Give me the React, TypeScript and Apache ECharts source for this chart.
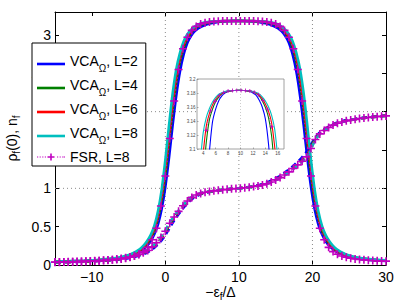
import React, { useEffect, useRef } from 'react';
import * as echarts from 'echarts';

// ---------------- data ----------------
const vcaX = [-15, -13, -11, -9, -7, -6, -5, -4, -3.5, -3, -2.5, -2, -1.5, -1, -0.5, 0, 0.5, 1, 1.5, 2, 2.5, 3, 3.5, 4, 4.5, 5, 6, 7, 8, 9, 9.9, 10.8, 11.8, 12.8, 13.8, 14.8, 15.3, 15.8, 16.3, 16.8, 17.3, 17.8, 18.3, 18.8, 19.3, 19.8, 20.3, 20.8, 21.3, 21.8, 22.3, 22.8, 23.3, 23.8, 24.8, 25.8, 26.8, 28.8, 30];

const rhoL2 = [0.04, 0.045, 0.051, 0.06, 0.077, 0.09, 0.112, 0.148, 0.172, 0.205, 0.25, 0.31, 0.4, 0.53, 0.73, 1.02, 1.4, 1.83, 2.22, 2.53, 2.75, 2.9, 2.99, 3.05, 3.09, 3.115, 3.15, 3.168, 3.178, 3.183, 3.1837, 3.183, 3.178, 3.168, 3.15, 3.115, 3.09, 3.05, 2.99, 2.9, 2.75, 2.53, 2.22, 1.83, 1.4, 1.02, 0.73, 0.53, 0.4, 0.31, 0.25, 0.205, 0.172, 0.148, 0.112, 0.09, 0.077, 0.06, 0.053];
const rhoL4 = [0.042, 0.046, 0.052, 0.062, 0.08, 0.095, 0.118, 0.157, 0.185, 0.225, 0.275, 0.35, 0.45, 0.61, 0.85, 1.18, 1.6, 2.03, 2.4, 2.66, 2.84, 2.96, 3.03, 3.08, 3.115, 3.14, 3.165, 3.177, 3.182, 3.1834, 3.1837, 3.1834, 3.182, 3.177, 3.165, 3.14, 3.115, 3.08, 3.03, 2.96, 2.84, 2.66, 2.4, 2.03, 1.6, 1.18, 0.85, 0.61, 0.45, 0.35, 0.275, 0.225, 0.185, 0.157, 0.118, 0.095, 0.08, 0.062, 0.055];
const rhoL6 = [0.043, 0.048, 0.054, 0.064, 0.083, 0.098, 0.123, 0.165, 0.195, 0.235, 0.29, 0.37, 0.48, 0.65, 0.91, 1.27, 1.7, 2.13, 2.48, 2.72, 2.88, 2.98, 3.05, 3.1, 3.13, 3.15, 3.17, 3.179, 3.1826, 3.1835, 3.1837, 3.1835, 3.1826, 3.179, 3.17, 3.15, 3.13, 3.1, 3.05, 2.98, 2.88, 2.72, 2.48, 2.13, 1.7, 1.27, 0.91, 0.65, 0.48, 0.37, 0.29, 0.235, 0.195, 0.165, 0.123, 0.098, 0.083, 0.064, 0.057];
const rhoL8 = [0.045, 0.05, 0.057, 0.068, 0.088, 0.104, 0.13, 0.175, 0.205, 0.25, 0.31, 0.39, 0.51, 0.7, 0.98, 1.37, 1.82, 2.24, 2.56, 2.77, 2.92, 3.01, 3.07, 3.11, 3.138, 3.155, 3.172, 3.18, 3.1828, 3.1836, 3.1837, 3.1836, 3.1828, 3.18, 3.172, 3.155, 3.138, 3.11, 3.07, 3.01, 2.92, 2.77, 2.56, 2.24, 1.82, 1.37, 0.98, 0.7, 0.51, 0.39, 0.31, 0.25, 0.205, 0.175, 0.13, 0.104, 0.088, 0.068, 0.06];

const nL2 = [0.033, 0.038, 0.044, 0.053, 0.066, 0.077, 0.09, 0.11, 0.123, 0.14, 0.162, 0.19, 0.225, 0.27, 0.325, 0.39, 0.47, 0.55, 0.625, 0.69, 0.75, 0.805, 0.85, 0.885, 0.91, 0.93, 0.952, 0.968, 0.982, 0.993, 1.0, 1.01, 1.025, 1.045, 1.075, 1.12, 1.145, 1.175, 1.21, 1.245, 1.285, 1.33, 1.375, 1.43, 1.49, 1.57, 1.65, 1.71, 1.75, 1.78, 1.81, 1.835, 1.855, 1.87, 1.89, 1.905, 1.92, 1.94, 1.95];
const nL4 = [0.035, 0.04, 0.046, 0.056, 0.07, 0.083, 0.097, 0.12, 0.135, 0.155, 0.178, 0.21, 0.25, 0.298, 0.356, 0.425, 0.515, 0.588, 0.655, 0.715, 0.775, 0.826, 0.868, 0.9, 0.921, 0.937, 0.957, 0.971, 0.984, 0.993, 1.0, 1.008, 1.021, 1.037, 1.063, 1.104, 1.13, 1.156, 1.187, 1.222, 1.26, 1.3, 1.342, 1.385, 1.44, 1.54, 1.63, 1.695, 1.74, 1.773, 1.802, 1.827, 1.847, 1.862, 1.886, 1.902, 1.916, 1.936, 1.946];
const nL6 = [0.035, 0.04, 0.047, 0.057, 0.072, 0.085, 0.1, 0.125, 0.14, 0.16, 0.185, 0.22, 0.26, 0.31, 0.37, 0.44, 0.53, 0.6, 0.665, 0.725, 0.785, 0.835, 0.875, 0.905, 0.925, 0.94, 0.958, 0.972, 0.984, 0.993, 1.0, 1.008, 1.02, 1.035, 1.06, 1.1, 1.125, 1.15, 1.18, 1.215, 1.25, 1.29, 1.33, 1.37, 1.42, 1.52, 1.62, 1.69, 1.735, 1.77, 1.8, 1.825, 1.845, 1.86, 1.885, 1.9, 1.915, 1.935, 1.945];
const nL8 = [0.036, 0.041, 0.048, 0.058, 0.074, 0.087, 0.103, 0.128, 0.144, 0.165, 0.19, 0.226, 0.267, 0.318, 0.38, 0.452, 0.54, 0.61, 0.673, 0.732, 0.79, 0.84, 0.879, 0.908, 0.927, 0.942, 0.959, 0.973, 0.985, 0.994, 1.0, 1.007, 1.019, 1.034, 1.058, 1.097, 1.121, 1.146, 1.176, 1.21, 1.245, 1.285, 1.325, 1.365, 1.412, 1.51, 1.615, 1.686, 1.732, 1.768, 1.798, 1.823, 1.843, 1.859, 1.884, 1.9, 1.914, 1.934, 1.944];

const fsrX = [-15, -14.4, -13.8, -13.2, -12.6, -12, -11.4, -10.8, -10.2, -9.6, -9, -8.4, -7.8, -7.2, -6.6, -6, -5.4, -4.8, -4.2, -3.6, -3, -2.4, -1.8, -1.2, -0.6, 0, 0.6, 1.2, 1.8, 2.4, 3, 3.6, 4.2, 4.8, 5.4, 6, 6.6, 7.2, 7.8, 8.4, 9, 9.6, 10.2, 10.8, 11.4, 12, 12.6, 13.2, 13.8, 14.4, 15, 15.6, 16.2, 16.8, 17.4, 18, 18.6, 19.2, 19.8, 20.4, 21, 21.6, 22.2, 22.8, 23.4, 24, 24.6, 25.2, 25.8, 26.4, 27, 27.6, 28.2, 28.8, 29.4, 30];
const fsrRho = [0.038, 0.039, 0.04, 0.042, 0.043, 0.045, 0.047, 0.048, 0.05, 0.053, 0.055, 0.058, 0.062, 0.067, 0.072, 0.079, 0.089, 0.102, 0.118, 0.141, 0.175, 0.23, 0.33, 0.48, 0.77, 1.16, 1.65, 2.14, 2.55, 2.82, 2.97, 3.06, 3.112, 3.145, 3.16, 3.17, 3.175, 3.179, 3.1815, 3.1828, 3.1835, 3.1837, 3.1837, 3.1835, 3.1828, 3.1815, 3.179, 3.175, 3.17, 3.16, 3.145, 3.112, 3.06, 2.97, 2.82, 2.55, 2.14, 1.65, 1.16, 0.77, 0.48, 0.33, 0.23, 0.175, 0.141, 0.118, 0.102, 0.089, 0.079, 0.072, 0.067, 0.062, 0.058, 0.055, 0.053, 0.05];
const fsrN = [0.035, 0.036, 0.038, 0.039, 0.041, 0.043, 0.045, 0.048, 0.051, 0.054, 0.057, 0.061, 0.066, 0.07, 0.077, 0.085, 0.094, 0.105, 0.12, 0.137, 0.16, 0.19, 0.236, 0.29, 0.358, 0.44, 0.545, 0.626, 0.7, 0.773, 0.835, 0.882, 0.913, 0.934, 0.948, 0.958, 0.967, 0.974, 0.982, 0.987, 0.993, 0.998, 1.002, 1.008, 1.015, 1.023, 1.032, 1.045, 1.06, 1.083, 1.11, 1.14, 1.174, 1.215, 1.258, 1.306, 1.354, 1.41, 1.52, 1.636, 1.71, 1.755, 1.795, 1.825, 1.848, 1.865, 1.88, 1.892, 1.9, 1.91, 1.918, 1.924, 1.93, 1.935, 1.94, 1.945];

// inset (zoom on the plateau)
const insetX = [3, 3.5, 4, 4.5, 5, 5.5, 6, 6.5, 7, 7.5, 8, 8.5, 9, 9.5, 10, 10.5, 11, 11.5, 12, 12.5, 13, 13.5, 14, 14.5, 15, 15.5, 16, 16.5, 17];
const insetL2 = [3.0, 3.0, 3.02, 3.05, 3.097, 3.139, 3.157, 3.169, 3.176, 3.18, 3.182, 3.183, 3.1835, 3.1837, 3.1837, 3.1835, 3.183, 3.182, 3.18, 3.177, 3.17, 3.16, 3.143, 3.108, 3.055, 3.02, 3.0, 3.0, 3.0];
const insetL4 = [3.0, 3.03, 3.06, 3.11, 3.142, 3.157, 3.168, 3.174, 3.179, 3.181, 3.1826, 3.1833, 3.1836, 3.1837, 3.1837, 3.1836, 3.1834, 3.1828, 3.1814, 3.1795, 3.1757, 3.169, 3.1594, 3.1452, 3.119, 3.07, 3.035, 3.0, 3.0];
const insetL6 = [3.025, 3.05, 3.094, 3.133, 3.151, 3.163, 3.171, 3.1763, 3.1797, 3.1816, 3.1828, 3.1834, 3.1836, 3.1837, 3.1837, 3.1836, 3.1834, 3.1829, 3.1819, 3.1804, 3.177, 3.172, 3.1644, 3.154, 3.1377, 3.1034, 3.06, 3.03, 3.0];
const insetL8 = [3.045, 3.08, 3.1234, 3.1452, 3.1578, 3.167, 3.1737, 3.1783, 3.1804, 3.182, 3.183, 3.1835, 3.1836, 3.1837, 3.1837, 3.1836, 3.1835, 3.183, 3.1822, 3.1808, 3.1787, 3.1745, 3.1686, 3.1603, 3.1485, 3.1285, 3.0883, 3.05, 3.025];
const insetFsrX = [4.5, 5.2, 5.9, 6.6, 7.3, 8.0, 8.7, 9.4, 10.1, 10.8, 11.5, 12.2, 12.9, 13.6, 14.3, 15.0];
const insetFsr = [3.1268, 3.1544, 3.1682, 3.1766, 3.1808, 3.1827, 3.1834, 3.1837, 3.1837, 3.1835, 3.1829, 3.1812, 3.1774, 3.1695, 3.1569, 3.1318];

// ticks and reference lines
const xTicks = [-10, 0, 10, 20, 30];
const yTicks = [0, 0.5, 1, 1.5, 2, 2.5, 3];
const gridLinesX = [0, 10, 20];
const gridLinesY = [1, 2];
const insetXTicks = [4, 6, 8, 10, 12, 14, 16];
const insetYTicks = [3.1, 3.12, 3.14, 3.16, 3.18, 3.2];
const insetGridX = [10];

const legendNames = ['VCA2', 'VCA4', 'VCA6', 'VCA8', 'FSR'];
const legendLabels = ['{m|VCA}{s|Ω}{m|, L=2}', '{m|VCA}{s|Ω}{m|, L=4}', '{m|VCA}{s|Ω}{m|, L=6}', '{m|VCA}{s|Ω}{m|, L=8}', '{f|FSR, L=8}'];

// ---------------- styling ----------------
const FONT = '"Liberation Sans", Arial, Helvetica, sans-serif';
const COL = { blue: '#0000ff', green: '#008000', red: '#ff0000', cyan: '#00bfbf', mag: '#c000c0' };
const PLUS = 'path://M4,0H6V4H10V6H6V10H4V6H0V4H4Z';
const LINE_ICON = 'path://M0,0H28V2.6H0Z';
const FSR_ICON = 'path://M0,4H1.2V5H0Z M2.6,4H3.8V5H2.6Z M5.2,4H6.4V5H5.2Z M7.8,4H9V5H7.8Z M20,4H21.2V5H20Z M22.6,4H23.8V5H22.6Z M25.2,4H26.4V5H25.2Z M26.8,4H28V5H26.8Z M10.5,3.7H13.2V1H14.8V3.7H17.5V5.3H14.8V8H13.2V5.3H10.5Z';

const pairs = (xs: number[], ys: number[]) => xs.map((x, i) => [x, ys[i]]);
const minus = (v: number) => (v < 0 ? '\u2212' + Math.abs(v) : String(v));

export default function App() {
  const ref = useRef<HTMLDivElement>(null);
  useEffect(() => {
    const chart = echarts.init(ref.current!, null, { renderer: 'svg' });

    const vca = [
      { name: 'VCA2', color: COL.blue, rho: rhoL2, n: nL2, ins: insetL2 },
      { name: 'VCA4', color: COL.green, rho: rhoL4, n: nL4, ins: insetL4 },
      { name: 'VCA6', color: COL.red, rho: rhoL6, n: nL6, ins: insetL6 },
      { name: 'VCA8', color: COL.cyan, rho: rhoL8, n: nL8, ins: insetL8 },
    ];

    const series: any[] = [];
    gridLinesX.forEach((v) =>
      series.push({ type: 'line', xAxisIndex: 0, yAxisIndex: 0, data: [[v, 0], [v, 3.3]], symbol: 'none', silent: true, z: 0,
        lineStyle: { color: '#8a8a8a', width: 1, type: [1, 3] } }));
    gridLinesY.forEach((v) =>
      series.push({ type: 'line', xAxisIndex: 0, yAxisIndex: 0, data: [[-15, v], [30, v]], symbol: 'none', silent: true, z: 0,
        lineStyle: { color: '#8a8a8a', width: 1, type: [1, 3] } }));
    vca.forEach((s) =>
      series.push({ type: 'line', name: s.name, xAxisIndex: 0, yAxisIndex: 0, data: pairs(vcaX, s.rho), symbol: 'none', smooth: 0.3,
        silent: true, z: 2, lineStyle: { color: s.color, width: 2.6 }, itemStyle: { color: s.color } }));
    vca.forEach((s) =>
      series.push({ type: 'line', name: s.name, xAxisIndex: 0, yAxisIndex: 0, data: pairs(vcaX, s.n), symbol: 'none', smooth: 0.3,
        silent: true, z: 2, lineStyle: { color: s.color, width: 2.6, type: [6, 4] }, itemStyle: { color: s.color } }));
    [fsrRho, fsrN].forEach((ys) =>
      series.push({ type: 'line', name: 'FSR', xAxisIndex: 0, yAxisIndex: 0, data: pairs(fsrX, ys), symbol: PLUS, symbolSize: 8,
        showSymbol: true, silent: true, z: 3, lineStyle: { color: COL.mag, width: 1.2, type: [1.5, 2.5] }, itemStyle: { color: COL.mag } }));
    // inset
    insetGridX.forEach((v) =>
      series.push({ type: 'line', xAxisIndex: 2, yAxisIndex: 2, data: [[v, 3.1], [v, 3.2]], symbol: 'none', silent: true, z: 1.5,
        lineStyle: { color: '#aaaaaa', width: 0.6, type: [1, 2] } }));
    vca.forEach((s) =>
      series.push({ type: 'line', name: 'in' + s.name, xAxisIndex: 2, yAxisIndex: 2, data: pairs(insetX, s.ins), symbol: 'none', smooth: 0.3,
        silent: true, z: 2, lineStyle: { color: s.color, width: 1.1 } }));
    series.push({ type: 'line', name: 'inFSR', xAxisIndex: 2, yAxisIndex: 2, data: pairs(insetFsrX, insetFsr), symbol: PLUS, symbolSize: 4,
      silent: true, z: 3, lineStyle: { color: COL.mag, width: 0.7, type: [1, 1.5] }, itemStyle: { color: COL.mag } });

    const mainAxisCommon = {
      axisLine: { show: true, onZero: false, lineStyle: { color: '#000', width: 1 } },
      splitLine: { show: false },
    };

    const option: any = {
      animation: false,
      backgroundColor: '#fff',
      grid: [
        { left: 55, top: 12, width: 331, height: 253, outerBoundsMode: 'none', containLabel: false },
        { left: 197, top: 79, width: 87, height: 70, show: true, backgroundColor: '#fff', borderColor: '#8c8c8c', borderWidth: 0.8, z: 1,
          outerBoundsMode: 'none', containLabel: false },
      ],
      legend: {
        data: legendNames.map((n) => ({ name: n, icon: n === 'FSR' ? FSR_ICON : LINE_ICON })),
        orient: 'vertical', left: 32, top: 43,
        itemWidth: 28, itemHeight: 22, itemGap: 5,
        symbolKeepAspect: true,
        padding: [11, 8, 2, 5],
        backgroundColor: '#fff', borderColor: '#000', borderWidth: 1, borderRadius: 0,
        selectedMode: false,
        formatter: (name: string) => legendLabels[legendNames.indexOf(name)],
        textStyle: {
          fontFamily: FONT, fontSize: 14, color: '#000',
          rich: {
            m: { fontFamily: FONT, fontSize: 14, color: '#000', padding: [0, 0, 6, 0] },
            s: { fontFamily: FONT, fontSize: 10, color: '#000', padding: [8, 0, 0, 0] },
            f: { fontFamily: FONT, fontSize: 14, color: '#000', padding: [3, 0, 3, 0] },
          },
        },
      },
      xAxis: [
        {
          type: 'value', gridIndex: 0, position: 'bottom', min: -15, max: 30, ...mainAxisCommon,
          axisTick: { show: true, inside: true, length: 4, customValues: xTicks, lineStyle: { color: '#000' } },
          axisLabel: { customValues: xTicks, formatter: minus, fontFamily: FONT, fontSize: 14, color: '#000', margin: 5 },
          name: '\u2212ε{s|f}/Δ', nameLocation: 'middle', nameGap: 17, nameMoveOverlap: false,
          nameTextStyle: { fontFamily: FONT, fontSize: 14, color: '#000',
            rich: { s: { fontFamily: FONT, fontSize: 10, color: '#000', padding: [9, 0, 0, 0] } } },
        },
        {
          type: 'value', gridIndex: 0, position: 'top', min: -15, max: 30, ...mainAxisCommon,
          axisTick: { show: true, inside: true, length: 4, customValues: xTicks, lineStyle: { color: '#000' } },
          axisLabel: { show: false },
        },
        {
          type: 'value', gridIndex: 1, position: 'bottom', min: 3, max: 17, z: 2,
          axisLine: { show: false }, splitLine: { show: false },
          axisTick: { show: true, inside: true, length: 1.5, customValues: insetXTicks, lineStyle: { color: '#777', width: 0.6 } },
          axisLabel: { customValues: insetXTicks, fontFamily: FONT, fontSize: 4.5, color: '#444', margin: 1.5 },
        },
      ],
      yAxis: [
        {
          type: 'value', gridIndex: 0, position: 'left', min: 0, max: 3.3, ...mainAxisCommon,
          axisTick: { show: true, inside: true, length: 4, customValues: yTicks, lineStyle: { color: '#000' } },
          axisLabel: { customValues: yTicks, fontFamily: FONT, fontSize: 14, color: '#000', margin: 4 },
          name: 'ρ{s|f}(0), n{s|f}', nameLocation: 'middle', nameGap: 34, nameMoveOverlap: false,
          nameTextStyle: { fontFamily: FONT, fontSize: 14, color: '#000',
            rich: { s: { fontFamily: FONT, fontSize: 10, color: '#000', padding: [9, 0, 0, 0] } } },
        },
        {
          type: 'value', gridIndex: 0, position: 'right', min: 0, max: 3.3, ...mainAxisCommon,
          axisTick: { show: true, inside: true, length: 4, customValues: yTicks, lineStyle: { color: '#000' } },
          axisLabel: { show: false },
        },
        {
          type: 'value', gridIndex: 1, position: 'left', min: 3.1, max: 3.2, z: 2,
          axisLine: { show: false }, splitLine: { show: false },
          axisTick: { show: true, inside: true, length: 1.5, customValues: insetYTicks, lineStyle: { color: '#777', width: 0.6 } },
          axisLabel: { customValues: insetYTicks, fontFamily: FONT, fontSize: 4.5, color: '#444', margin: 1.5 },
        },
      ],
      series,
    };
    chart.setOption(option);
    return () => chart.dispose();
  }, []);
  return <div ref={ref} style={{ position: 'fixed', left: 0, top: 0, width: 399, height: 308, background: '#fff' }} />;
}
